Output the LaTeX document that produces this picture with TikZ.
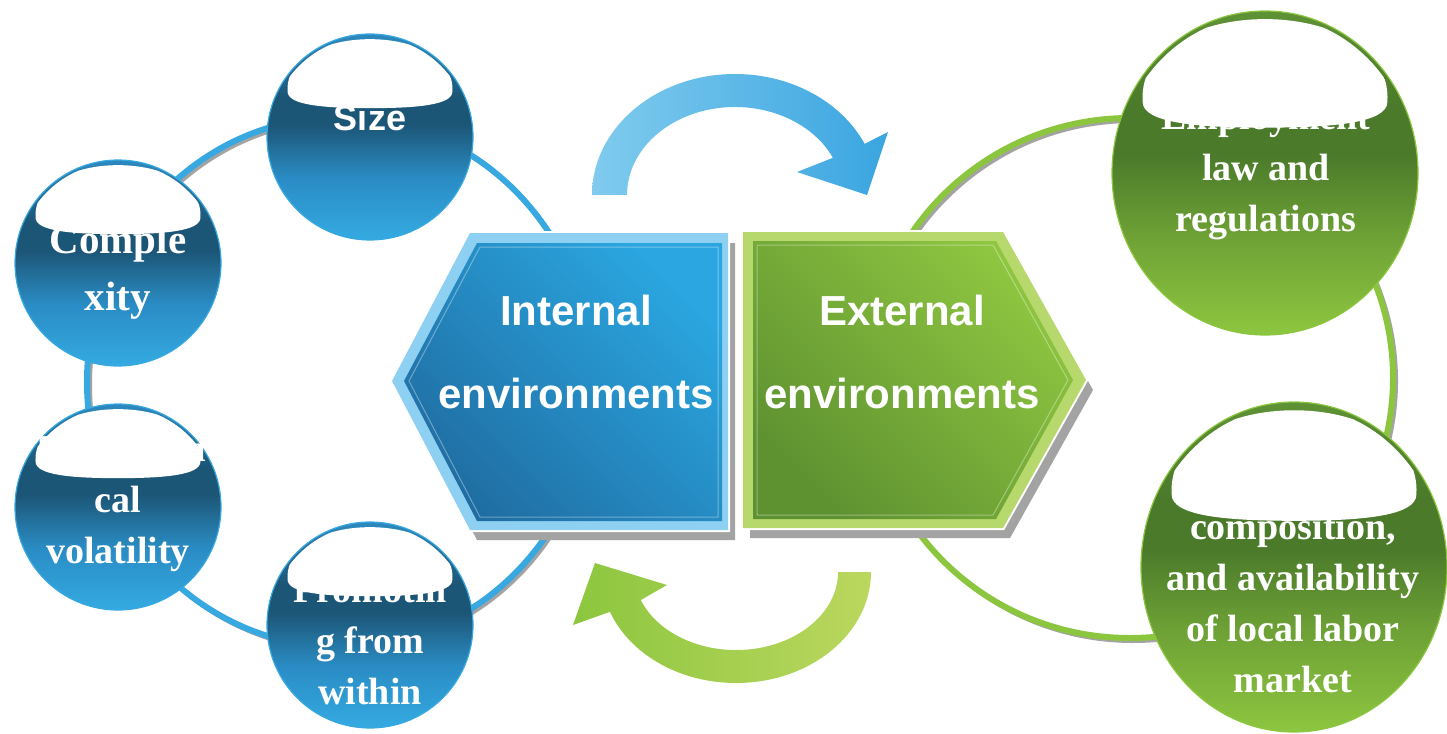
\documentclass[tikz,border=0pt]{standalone}
\usepackage{fontspec}
\setmainfont{Liberation Serif}
\newfontfamily\arialf{Liberation Sans}
\usetikzlibrary{shapes.geometric,calc}
\definecolor{ringblue}{HTML}{38A8E0}
\definecolor{ringgreen}{HTML}{8CC63F}
\definecolor{shadowgray}{HTML}{A3A3A3}
\definecolor{lb1}{HTML}{34AAE2}
\definecolor{lb2}{HTML}{2A8CC4}
\definecolor{lb3}{HTML}{1C5677}
\definecolor{lb4}{HTML}{2C8AC0}
\definecolor{lg1}{HTML}{8DC63F}
\definecolor{lg2}{HTML}{6FA236}
\definecolor{lg3}{HTML}{4A7A2A}
\definecolor{lg4}{HTML}{5F9135}
\definecolor{hbLight}{HTML}{8ED0F2}
\definecolor{hbTop}{HTML}{2BA6E0}
\definecolor{hbBot}{HTML}{1F6EA3}
\definecolor{hgLight}{HTML}{B6D86C}
\definecolor{hgTop}{HTML}{8FC640}
\definecolor{hgBot}{HTML}{5E9231}
\definecolor{abL}{HTML}{80CBEE}
\definecolor{abR}{HTML}{3AA5E0}
\definecolor{agL}{HTML}{8CC63F}
\definecolor{agR}{HTML}{BBD75E}
\pgfdeclareverticalshading{leftball}{100bp}{color(0bp)=(lb1); color(25bp)=(lb1); color(40bp)=(lb2); color(53bp)=(lb3); color(60bp)=(lb3); color(75bp)=(lb4); color(100bp)=(lb4)}
\pgfdeclareverticalshading{rightball}{100bp}{color(0bp)=(lg1); color(25bp)=(lg1); color(40bp)=(lg2); color(53bp)=(lg3); color(60bp)=(lg3); color(75bp)=(lg4); color(100bp)=(lg4)}
\newcommand{\whitecap}[3]{%
  \begin{scope}[shift={(#1.center)}, x=#2pt, y=-#3pt]
    \clip (0,0) ellipse [x radius=0.975, y radius=0.975];
    \fill[white] (-0.80,-0.44) .. controls (-0.84,-1.12) and (0.84,-1.12) .. (0.80,-0.44)
      .. controls (0.80,-0.31) and (0.45,-0.28) .. (0,-0.28)
      .. controls (-0.45,-0.28) and (-0.80,-0.31) .. cycle;
  \end{scope}}
\begin{document}
\begin{tikzpicture}[x=1pt,y=-1pt,
  ballL/.style={ellipse, minimum width=206pt, minimum height=206pt, draw=ringblue, line width=1.2pt, shade, shading=leftball, inner sep=0pt},
  ballR/.style={ellipse, draw=ringgreen, line width=1.2pt, shade, shading=rightball, inner sep=0pt},
  ctext/.style={text=white, align=center, font=\bfseries\fontsize{38}{51}\selectfont, inner sep=0pt},
  htext/.style={text=white, align=center, font=\arialf\bfseries\fontsize{42}{83}\selectfont, inner sep=0pt}]
\useasboundingbox (0,0) rectangle (1447,733);
\clip (0,0) rectangle (1447,733);
% rings
\draw[shadowgray, line width=4pt] (343,385) ellipse [x radius=253, y radius=265];
\draw[ringblue, line width=6pt] (340,382) ellipse [x radius=253, y radius=265];
\draw[shadowgray, line width=4pt] (1133,381) ellipse [x radius=263, y radius=260];
\draw[ringgreen, line width=6pt] (1130,378) ellipse [x radius=263, y radius=260];
% cycle arrows
\shade[left color=abL, right color=abR] (592,195) arc[start angle=-180, end angle=-25, x radius=143, y radius=121]
  -- (888,132) -- (867,195) -- (797,172) -- (832.9,157.8)
  arc[start angle=-25, end angle=-180, x radius=108, y radius=88] -- cycle;
\shade[left color=agL, right color=agR] (871,572) arc[start angle=0, end angle=159, x radius=135, y radius=111]
  -- (573,625) -- (595,563) -- (667,585) -- (640.8,600)
  arc[start angle=159, end angle=0, x radius=102, y radius=78] -- cycle;
% internal hexagon
\fill[shadowgray] (399,391) -- (477,243) -- (735,243) -- (735,540) -- (477,540) -- cycle;
\filldraw[white, line width=4pt] (392,381) -- (470,233) -- (728,233) -- (728,530) -- (470,530) -- cycle;
\fill[hbLight] (392,381) -- (470,233) -- (728,233) -- (728,530) -- (470,530) -- cycle;
\shade[top color=hbTop, bottom color=hbBot, shading angle=-45] (404,381) -- (477,243) -- (722,243) -- (722,521) -- (477,521) -- cycle;
\draw[white, opacity=0.35, line width=1pt] (409,381) -- (480,247) -- (718,247) -- (718,517) -- (480,517) -- cycle;
% external hexagon
\fill[shadowgray] (750,242) -- (1010,242) -- (1093,390) -- (1010,538) -- (750,538) -- cycle;
\filldraw[white, line width=4pt] (743,232) -- (1003,232) -- (1086,380) -- (1003,528) -- (743,528) -- cycle;
\fill[hgLight] (743,232) -- (1003,232) -- (1086,380) -- (1003,528) -- (743,528) -- cycle;
\shade[top color=hgTop, bottom color=hgBot, shading angle=-45] (753,241) -- (996,241) -- (1073,380) -- (996,519) -- (753,519) -- cycle;
\draw[white, opacity=0.35, line width=1pt] (757,245) -- (993,245) -- (1068,380) -- (993,515) -- (757,515) -- cycle;
\node[htext] (internal) at (576,352) {Internal\\environments};
\node[htext] (external) at (902,352) {External\\environments};
% left circles
\node[ballL] (size) at (370,137) {};
\node[ctext, font=\arialf\bfseries\fontsize{36}{40}\selectfont] (sizet) at (370,118) {Size};
\whitecap{size}{103}{103}
\node[ballL] (complex) at (118,263) {};
\node[ctext, font=\bfseries\fontsize{41}{57}\selectfont] (complext) at (118,272) {Comple\\xity};
\whitecap{complex}{103}{103}
\node[ballL] (tech) at (118,507) {};
\node[ctext] (techt) at (118,503) {Technologi\\cal\\volatility};
\whitecap{tech}{103}{103}
\node[ballL] (promo) at (370,625) {};
\node[ctext] (promot) at (370,640) {Promotin\\g from\\within};
\whitecap{promo}{103}{103}
% right circles
\node[ballR, minimum width=306pt, minimum height=324pt] (employ) at (1265,173) {};
\node[ctext] (employt) at (1266,172) {Employment\\law and\\regulations};
\whitecap{employ}{153}{162}
\node[ballR, minimum width=306pt, minimum height=330pt] (labor) at (1294,567) {};
\whitecap{labor}{153}{165}
\node[ctext] (labort) at (1293,603) {composition,\\and availability\\of local labor\\market};
\end{tikzpicture}
\end{document}
